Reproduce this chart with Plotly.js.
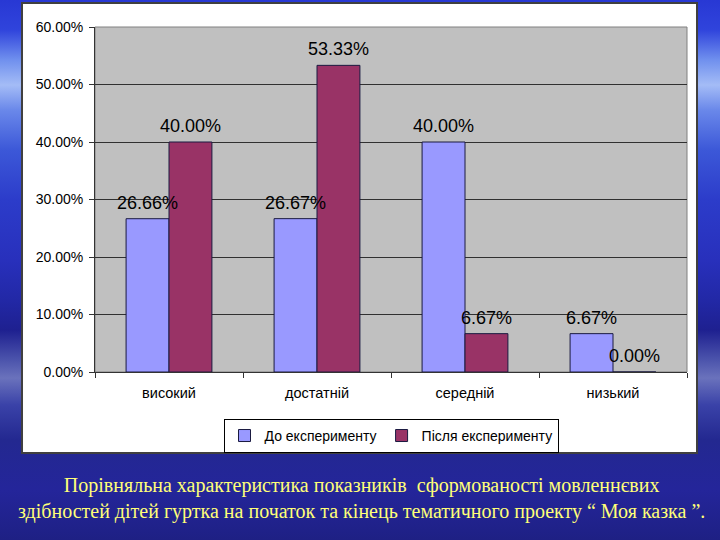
<!DOCTYPE html>
<html>
<head>
<meta charset="utf-8">
<script src="https://cdn.plot.ly/plotly-3.0.1.min.js"></script>
<style>
html, body { margin: 0; padding: 0; }
body {
  width: 720px; height: 540px; overflow: hidden;
  background: linear-gradient(to bottom,
    #2838d4 0px, #3044dc 30px, #7090ee 60px, #a4bcf6 85px, #6a88ea 110px,
    #3c58d8 150px, #2c3cca 200px, #2830bc 260px, #2228a6 300px, #1e2090 330px,
    #4c54ac 360px, #6a72bc 378px, #3a42a8 405px, #232890 440px, #24259a 490px, #1e2084 540px);
}
#chart { width: 720px; height: 540px; }
</style>
</head>
<body>
<div id="chart"></div>
<script>
const categories = ["високий", "достатній", "середній", "низький"];
const seriesNames = ["До експерименту", "Після експерименту"];
const before = [0.2666, 0.2667, 0.4000, 0.0667];
const after = [0.4000, 0.5333, 0.0667, 0.0000];
const beforeLabels = ["26.66%", "26.67%", "40.00%", "6.67%"];
const afterLabels = ["40.00%", "53.33%", "6.67%", "0.00%"];
const caption = "Порівняльна характеристика показників  сформованості мовленнєвих<br>здібностей дітей гуртка на початок та кінець тематичного проекту “ Моя казка ”.";

const barLine = { color: "#1a1a40", width: 1 };
const traces = [
  { type: "bar", name: seriesNames[0], x: categories, y: before,
    marker: { color: "#9999ff", line: barLine }, hoverinfo: "none" },
  { type: "bar", name: seriesNames[1], x: categories, y: after,
    marker: { color: "#993366", line: barLine }, hoverinfo: "none" }
];

const labelFont = { family: "Arial, Liberation Sans, sans-serif", size: 18, color: "#000" };
const annotations = [];
categories.forEach((c, i) => {
  annotations.push({ x: c, y: before[i], xref: "x", yref: "y", text: beforeLabels[i],
    showarrow: false, xshift: -21.5, yshift: 16, yanchor: "middle", font: labelFont });
  annotations.push({ x: c, y: after[i], xref: "x", yref: "y", text: afterLabels[i],
    showarrow: false, xshift: 21.5, yshift: 16, yanchor: "middle", font: labelFont });
});
annotations.push({
  xref: "paper", yref: "paper", x: 0.451, y: -0.368, xanchor: "center", yanchor: "middle",
  text: caption, showarrow: false, align: "center",
  font: { family: "Liberation Serif, Times New Roman, serif", size: 20, color: "#ffff78" }
});

const layout = {
  width: 720, height: 540,
  margin: { l: 95, r: 33, t: 27, b: 168, pad: 0 },
  paper_bgcolor: "rgba(0,0,0,0)",
  plot_bgcolor: "rgba(0,0,0,0)",
  barmode: "group",
  bargap: 0.42,
  bargroupgap: 0,
  showlegend: true,
  legend: {
    orientation: "h", x: 0.5, xanchor: "center", y: -0.136, yanchor: "top",
    bgcolor: "#ffffff", bordercolor: "#000000", borderwidth: 1,
    font: { family: "Arial, Liberation Sans, sans-serif", size: 14, color: "#000" },
    itemwidth: 30, traceorder: "normal"
  },
  xaxis: {
    type: "category", tickson: "boundaries", ticks: "outside", ticklen: 5,
    tickcolor: "#333", showline: true, linecolor: "#333", linewidth: 1,
    showgrid: false, ticklabelstandoff: 8,
    tickfont: { family: "Arial, Liberation Sans, sans-serif", size: 14.5, color: "#000" },
    fixedrange: true
  },
  yaxis: {
    range: [0, 0.6], dtick: 0.1, tick0: 0, tickformat: ".2%",
    ticks: "outside", ticklen: 5, tickcolor: "#333",
    showline: true, linecolor: "#333", linewidth: 1,
    showgrid: true, gridcolor: "#303030", gridwidth: 1, zeroline: false,
    ticklabelstandoff: 3,
    tickfont: { family: "Arial, Liberation Sans, sans-serif", size: 14, color: "#000" },
    fixedrange: true
  },
  shapes: [
    { type: "rect", xref: "paper", yref: "paper", layer: "below",
      x0: -0.1233, x1: 1.0169, y0: -0.2348, y1: 1.0696,
      fillcolor: "#ffffff", line: { color: "#404040", width: 2 } },
    { type: "rect", xref: "paper", yref: "paper", layer: "below",
      x0: 0, x1: 1, y0: 0, y1: 1,
      fillcolor: "#c0c0c0", line: { color: "#808080", width: 1 } }
  ],
  annotations: annotations
};

Plotly.newPlot("chart", traces, layout, { displayModeBar: false, staticPlot: true });
</script>
</body>
</html>
